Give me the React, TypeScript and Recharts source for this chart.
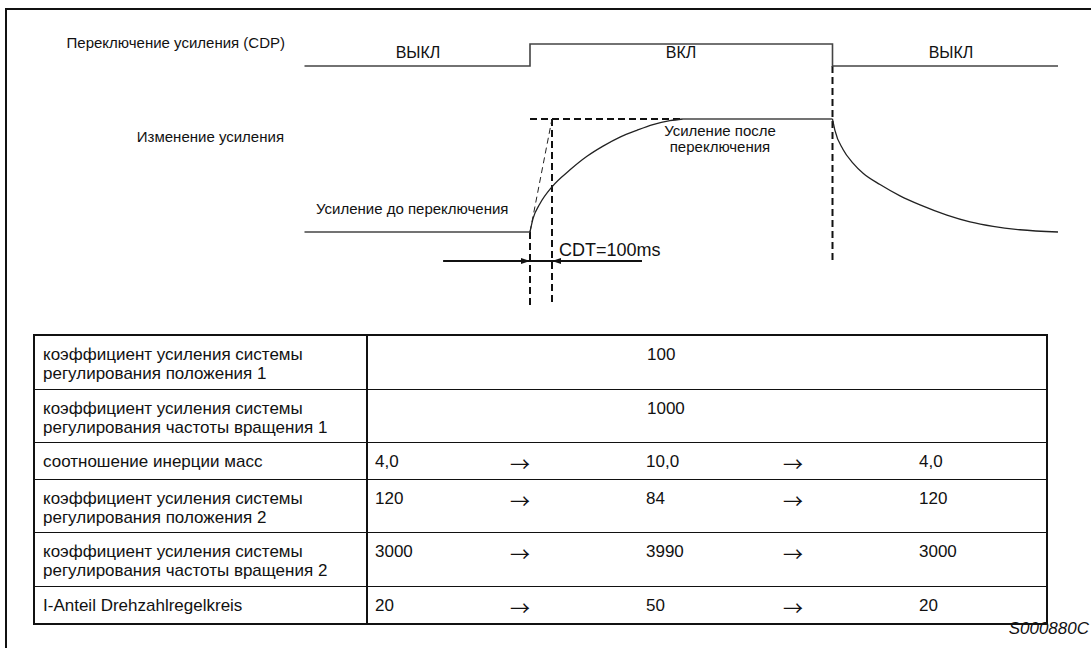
import React from "react";
import {
  ComposedChart,
  Line,
  XAxis,
  YAxis,
  ReferenceLine,
  ReferenceDot,
} from "recharts";

// time axis in ms, gain switching (CDP) turns on at t = 0
const cdpTimes = [-1025, 0, 1375, 2400];
const cdpState = [0, 1, 0, 0]; // 0 = ВЫКЛ, 1 = ВКЛ

// gain change, % of the step between gain before and after switching
const flatTimes = [-1025, 0, 695, 1375];
const flatLevel = [0, 0, 100, 100];
const riseTimes = [0, 14, 45, 100, 182, 259, 332, 409, 486, 559, 636, 695];
const riseLevel = [0, 12, 25, 40, 55, 67, 76, 84, 90, 95, 98.5, 100];
const decayTimes = [1375, 1386, 1423, 1468, 1514, 1591, 1682, 1773, 1895, 2000, 2105, 2227, 2400];
const decayLevel = [100, 90, 73, 61, 52, 42, 32, 24, 15, 9, 5, 2, 0];

const cdtMs = 100;
const switchOn = 0;
const switchOff = 1375;

const paramNames = [
  "коэффициент усиления системы\nрегулирования положения 1",
  "коэффициент усиления системы\nрегулирования частоты вращения 1",
  "соотношение инерции масс",
  "коэффициент усиления системы\nрегулирования положения 2",
  "коэффициент усиления системы\nрегулирования частоты вращения 2",
  "I-Anteil Drehzahlregelkreis",
];
const valuesBefore = ["", "", "4,0", "120", "3000", "20"];
const valuesOn = ["100", "1000", "10,0", "84", "3990", "50"];
const valuesAfter = ["", "", "4,0", "120", "3000", "20"];

const W = 1091;
const H = 320;
const FONT = "'Liberation Sans', Arial, Helvetica, sans-serif";

// pixel layout of the diagram
const pxPerMs = 0.22;
const pxOn = 530;
const cdpLowPx = 66;
const cdpHighPx = 44;
const gainLowPx = 232;
const gainHighPx = 119;

const axisDomain = (v0: number, p0: number, v1: number, p1: number, h: number) => {
  const k = (p0 - p1) / (v1 - v0);
  return [v0 - (h - p0) / k, v1 + p1 / k];
};
const gainAt = (px: number) =>
  ((gainLowPx - px) / (gainLowPx - gainHighPx)) * 100;

const cdpData = cdpTimes.map((t, i) => ({ t, cdp: cdpState[i] }));
const flatBefore = flatTimes.slice(0, 2).map((t, i) => ({ t, g: flatLevel[i] }));
const flatOn = flatTimes.slice(2).map((t, i) => ({ t, g: flatLevel[i + 2] }));
const riseData = riseTimes.map((t, i) => ({ t, g: riseLevel[i] }));
const decayData = decayTimes.map((t, i) => ({ t, g: decayLevel[i] }));
const tangentData = [
  { t: switchOn, g: 0 },
  { t: switchOn + cdtMs, g: 100 },
];
const arrowY = gainAt(261);
const arrowData = [
  { t: -395, g: arrowY },
  { t: 509, g: arrowY },
];

const dash = "7 4";

const ArrowHead = (dir: number) => (props: any) => {
  const { cx, cy } = props;
  const l = 9;
  const w = 3;
  return (
    <path
      d={`M${cx},${cy} L${cx - dir * l},${cy - w} L${cx - dir * l},${cy + w} Z`}
      fill="#111"
      stroke="none"
    />
  );
};

const abs = (
  left: number,
  top: number,
  extra: React.CSSProperties = {}
): React.CSSProperties => ({
  position: "absolute",
  left,
  top,
  whiteSpace: "nowrap",
  ...extra,
});

const lineProps = {
  yAxisId: "gain",
  dataKey: "g",
  dot: false,
  activeDot: false,
  isAnimationActive: false,
} as const;

const guide = (segment: { x: number; y: number }[], key: string) => (
  <ReferenceLine
    key={key}
    yAxisId="gain"
    segment={segment}
    stroke="#111"
    strokeWidth={2}
    strokeDasharray={dash}
    ifOverflow="visible"
  />
);

const Diagram = () => (
  <ComposedChart width={W} height={H} margin={{ top: 0, right: 0, bottom: 0, left: 0 }}>
    <XAxis
      type="number"
      dataKey="t"
      hide
      domain={[-pxOn / pxPerMs, (W - pxOn) / pxPerMs]}
      allowDataOverflow
    />
    <YAxis
      yAxisId="cdp"
      type="number"
      hide
      domain={axisDomain(0, cdpLowPx, 1, cdpHighPx, H)}
      allowDataOverflow
    />
    <YAxis
      yAxisId="gain"
      type="number"
      hide
      domain={axisDomain(0, gainLowPx, 100, gainHighPx, H)}
      allowDataOverflow
    />

    {/* dashed guides */}
    {guide(
      [
        { x: switchOn, y: 0 },
        { x: switchOn, y: gainAt(305) },
      ],
      "g1"
    )}
    {guide(
      [
        { x: switchOn + cdtMs, y: 100 },
        { x: switchOn + cdtMs, y: gainAt(305) },
      ],
      "g2"
    )}
    {guide(
      [
        { x: switchOff, y: gainAt(cdpLowPx) },
        { x: switchOff, y: gainAt(263) },
      ],
      "g3"
    )}
    {guide(
      [
        { x: switchOn, y: 100 },
        { x: riseTimes[riseTimes.length - 1], y: 100 },
      ],
      "g4"
    )}

    <Line
      data={cdpData}
      yAxisId="cdp"
      dataKey="cdp"
      type="stepAfter"
      stroke="#444"
      strokeWidth={1.6}
      dot={false}
      activeDot={false}
      isAnimationActive={false}
    />
    <Line {...lineProps} data={flatBefore} type="linear" stroke="#444" strokeWidth={1.6} />
    <Line {...lineProps} data={flatOn} type="linear" stroke="#444" strokeWidth={1.6} />
    <Line {...lineProps} data={riseData} type="monotone" stroke="#222" strokeWidth={1.3} />
    <Line {...lineProps} data={decayData} type="monotone" stroke="#222" strokeWidth={1.3} />
    <Line
      {...lineProps}
      data={tangentData}
      type="linear"
      stroke="#222"
      strokeWidth={1}
      strokeDasharray="6 4"
    />
    <Line {...lineProps} data={arrowData} type="linear" stroke="#111" strokeWidth={2} />
    <ReferenceDot
      yAxisId="gain"
      x={switchOn}
      y={arrowY}
      shape={ArrowHead(1)}
      ifOverflow="visible"
    />
    <ReferenceDot
      yAxisId="gain"
      x={switchOn + cdtMs}
      y={arrowY}
      shape={ArrowHead(-1)}
      ifOverflow="visible"
    />
  </ComposedChart>
);

const cellBase: React.CSSProperties = {
  borderBottom: "1.5px solid #111",
  verticalAlign: "top",
  padding: "9px 0 0 7px",
  lineHeight: "19px",
  fontSize: 17,
  textAlign: "left",
};
const arrowCell: React.CSSProperties = {
  ...cellBase,
  fontFamily: "'Noto Sans CJK SC', 'DejaVu Sans', sans-serif",
  fontSize: 20,
  paddingTop: 11,
  paddingLeft: 6,
};

const rowHeights = [54, 53, 37, 53, 54, 38];

const ParamTable = () => (
  <table
    style={{
      position: "absolute",
      left: 33,
      top: 334,
      width: 1013,
      borderCollapse: "collapse",
      border: "2.5px solid #111",
      fontFamily: FONT,
      color: "#111",
      tableLayout: "fixed",
    }}
  >
    <colgroup>
      <col style={{ width: 333 }} />
      <col style={{ width: 137 }} />
      <col style={{ width: 135 }} />
      <col style={{ width: 138 }} />
      <col style={{ width: 135 }} />
      <col style={{ width: 135 }} />
    </colgroup>
    <tbody>
      {paramNames.map((name, i) => {
        const changes = valuesBefore[i] !== "";
        return (
          <tr key={i} style={{ height: rowHeights[i] }}>
            <td
              style={{
                ...cellBase,
                paddingLeft: 8,
                whiteSpace: "pre-line",
                borderRight: "2.5px solid #111",
              }}
            >
              {name}
            </td>
            {changes ? (
              <>
                <td style={cellBase}>{valuesBefore[i]}</td>
                <td style={arrowCell}>→</td>
                <td style={cellBase}>{valuesOn[i]}</td>
                <td style={arrowCell}>→</td>
                <td style={cellBase}>{valuesAfter[i]}</td>
              </>
            ) : (
              <td colSpan={5} style={{ ...cellBase, paddingLeft: 279 }}>
                {valuesOn[i]}
              </td>
            )}
          </tr>
        );
      })}
    </tbody>
  </table>
);

export default function App() {
  const label: React.CSSProperties = { fontSize: 15, color: "#111", lineHeight: "16px" };
  const state: React.CSSProperties = { ...label, fontSize: 16, width: 100, textAlign: "center" };
  return (
    <div
      style={{
        position: "absolute",
        left: 0,
        top: 0,
        width: W,
        height: 648,
        background: "#fff",
        fontFamily: FONT,
        overflow: "hidden",
      }}
    >
      <div
        style={{
          position: "absolute",
          left: 5,
          top: 8,
          width: W,
          height: 660,
          borderTop: "2.5px solid #111",
          borderLeft: "2px solid #111",
        }}
      />
      <div style={{ position: "absolute", left: 0, top: 0 }}>
        <Diagram />
      </div>

      <div style={abs(0, 35, { ...label, width: 285, textAlign: "right" })}>
        Переключение усиления (CDP)
      </div>
      <div style={abs(0, 129, { ...label, width: 284, textAlign: "right" })}>
        Изменение усиления
      </div>
      <div style={abs(368, 45, state)}>ВЫКЛ</div>
      <div style={abs(631, 45, state)}>ВКЛ</div>
      <div style={abs(901, 45, state)}>ВЫКЛ</div>
      <div style={abs(316, 201, label)}>Усиление до переключения</div>
      <div style={abs(640, 123, { ...label, width: 160, textAlign: "center" })}>
        Усиление после
        <br />
        переключения
      </div>
      <div style={abs(559, 240, { fontSize: 18, color: "#111", lineHeight: "20px" })}>
        CDT=100ms
      </div>

      <ParamTable />

      <div
        style={abs(900, 621, {
          width: 189,
          textAlign: "right",
          fontSize: 17,
          fontStyle: "italic",
          color: "#111",
          lineHeight: "16px",
        })}
      >
        S000880C
      </div>
    </div>
  );
}
